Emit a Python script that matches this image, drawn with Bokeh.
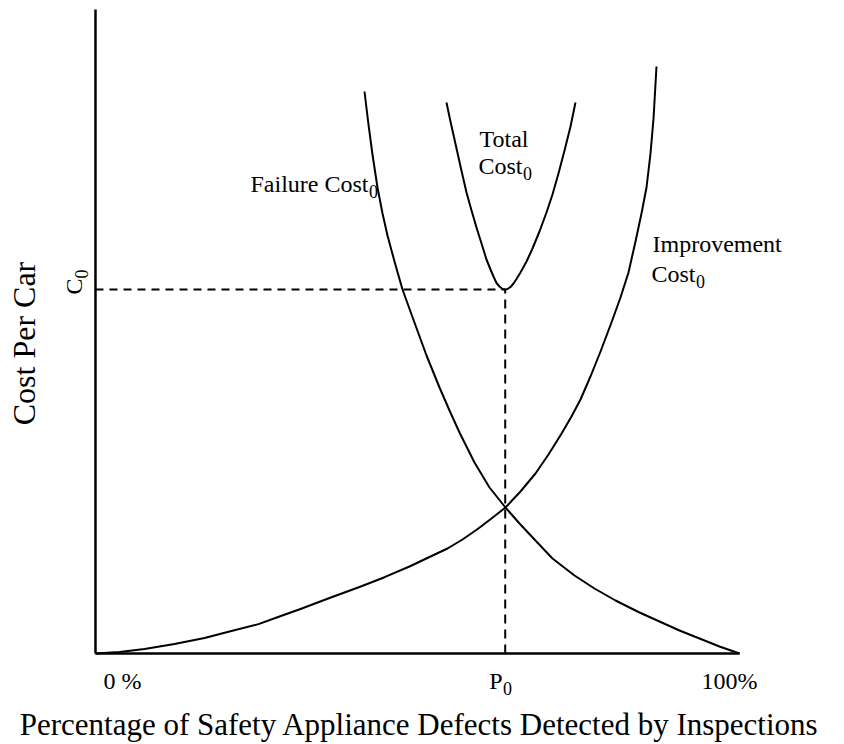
from bokeh.plotting import figure
from bokeh.models import Label, Range1d
from bokeh.embed import file_html
from bokeh.resources import INLINE
import math

# ---- data: x = percent of defects detected, y = cost per car (arbitrary units) ----
improvement_x = [0, 3.73, 7.61, 12.27, 16.93, 20.81, 25.31, 28.57, 31.83, 36.34,
                 40.99, 44.88, 48.76, 51.86, 54.66, 56.99, 59.24, 61.49, 63.66, 65.99,
                 68.32, 70.34, 72.28, 73.91, 75.31, 76.86, 78.42, 80.12, 81.52, 82.76,
                 83.85, 84.78, 85.56, 86.18, 86.65, 87.11]
improvement_y = [0, 1.5, 4.5, 9.4, 15.5, 22, 29.4, 37, 44.5, 55.5,
                 66.5, 76.3, 87, 96.5, 105, 114, 124, 135, 146, 162,
                 180, 199, 219, 237, 254, 277, 302, 331, 356, 381,
                 412, 440, 466, 500, 535, 587]

failure_x = [41.77, 42.39, 43.01, 43.79, 44.57, 45.34, 46.43, 47.67, 49.53, 51.40,
             53.42, 54.97, 56.52, 58.85, 61.18, 63.66, 65.84, 68.17, 70.96, 74.38,
             77.48, 80.75, 84.47, 87.58, 90.68, 93.79, 96.89, 100]
failure_y = [562, 529, 499, 466, 440, 418, 392, 364, 331, 298,
             266, 243, 221, 191, 166, 146, 130, 114, 95, 78,
             65, 53, 41, 32, 23, 15, 7, 0]

total_x = [54.50, 55.12, 55.75, 56.68, 57.61, 58.39, 59.16, 59.94, 60.71, 61.34,
           61.80, 62.27, 62.73, 63.20, 63.62, 63.98, 64.44, 64.91, 65.37, 65.99,
           66.93, 67.86, 68.94, 70.03, 70.96, 71.89, 72.83, 73.76, 74.53]
total_y = [551, 532, 514, 487, 461, 443, 426, 410, 394, 384,
           377, 370.5, 367, 364.5, 364, 364.5, 366.5, 370, 374.5, 381,
           392, 405, 422, 441, 459, 480, 503, 527, 551]

P0 = 63.62      # optimal inspection level
C0 = 364        # minimum total cost
X_MAX = 100     # 100 %
Y_MAX = 644     # top of cost axis

tick_labels = ["0 %", "P", "100%"]
FONT = "Liberation Serif"

p = figure(width=832, height=743,
           x_range=Range1d(-14.75, 114.44), y_range=Range1d(-90, 653),
           output_backend="svg", toolbar_location=None,
           x_axis_location=None, y_axis_location=None,
           min_border_left=0, min_border_right=0, min_border_top=0, min_border_bottom=0)
p.grid.visible = False
p.outline_line_color = None
p.background_fill_color = "white"
p.border_fill_color = "white"

# axes
p.line([0, X_MAX], [0, 0], line_color="black", line_width=2.5)
p.line([0, 0], [0, Y_MAX], line_color="black", line_width=2.5)

# curves
p.line(improvement_x, improvement_y, line_color="black", line_width=2, line_join="round")
p.line(failure_x, failure_y, line_color="black", line_width=2, line_join="round")
p.line(total_x, total_y, line_color="black", line_width=2, line_join="round")

# optimum guides
p.line([0, P0], [C0, C0], line_color="black", line_width=2, line_dash="8 6")
p.line([P0, P0], [0, C0], line_color="black", line_width=2, line_dash="9 6")


def lab(x, y, text, size, align="left", angle=0.0):
    p.add_layout(Label(x=x, y=y, text=text, text_font=FONT, text_font_size=f"{size}px",
                       text_align=align, text_baseline="alphabetic", text_color="black",
                       angle=angle, x_units="data", y_units="data"))


# curve labels (main text + subscript 0)
lab(42.39, 470, "Failure Cost", 24, "right")
lab(42.47, 462, "0", 18, "left")

lab(59.63, 515, "Total", 24, "left")
lab(66.30, 488, "Cost", 24, "right")
lab(66.38, 480, "0", 18, "left")

lab(86.49, 410, "Improvement", 24, "left")
lab(93.17, 380, "Cost", 24, "right")
lab(93.25, 372, "0", 18, "left")

# x tick labels
lab(1.24, -27, tick_labels[0], 24, "left")
lab(63.2, -27, tick_labels[1], 24, "right")
lab(63.28, -35, "0", 18, "left")
lab(94.1, -27, tick_labels[2], 24, "left")

# y marker C0 (rotated)
lab(-3.26, 375, "C", 24, "right", math.pi / 2)
lab(-2.17, 375, "0", 18, "left", math.pi / 2)

# axis titles
lab(50.31, -70.5, "Percentage of Safety Appliance Defects Detected by Inspections", 31, "center")
lab(-11.1, 310, "Cost Per Car", 32, "center", math.pi / 2)

open("out.html", "w").write(file_html(p, INLINE))
